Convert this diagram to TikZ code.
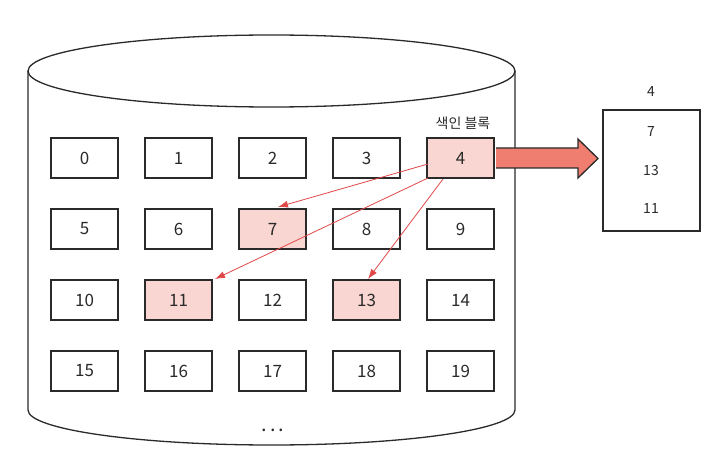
\documentclass[tikz,border=0pt]{standalone}
\usepackage{fontspec}
\setmainfont{Noto Sans CJK KR}
\usetikzlibrary{arrows.meta}
\definecolor{pinkfill}{HTML}{F9D6D1}
\definecolor{redline}{HTML}{E04848}
\definecolor{arrowfill}{HTML}{F07E70}
\definecolor{ink}{HTML}{2A2A2A}
\begin{document}
\begin{tikzpicture}[x=1pt,y=-1pt,
  blk/.style={draw=ink,line width=1.3pt,minimum width=67pt,minimum height=40pt,inner sep=0pt,font=\fontsize{17}{17}\selectfont,text=ink},
  hl/.style={blk,fill=pinkfill},
  ptr/.style={draw=redline,line width=0.8pt,-{Latex[length=10pt,width=7pt]}},
  lbl/.style={font=\fontsize{14}{14}\selectfont,text=ink}]
\useasboundingbox (0,0) rectangle (716,468);
% cylinder
\draw[ink,line width=1.3pt] (28,71) -- (28,410) arc[start angle=180,end angle=0,x radius=243.5,y radius=35] -- (515,71);
\draw[ink,line width=1.3pt] (271.5,71) ellipse[x radius=243.5,y radius=36];
% blocks
\foreach \n [count=\i from 0] in {0,...,19}{
  \pgfmathtruncatemacro{\c}{mod(\i,5)}
  \pgfmathtruncatemacro{\r}{div(\i,5)}
  \ifnum\n=4 \def\st{hl}\else\ifnum\n=7 \def\st{hl}\else\ifnum\n=11 \def\st{hl}\else\ifnum\n=13 \def\st{hl}\else\def\st{blk}\fi\fi\fi\fi
  \node[\st] (b\n) at ({84.5+94*\c},{158+71*\r}) {\n};
}
\node[lbl,anchor=south] (idx) at (463,133) {색인 블록};
\node[font=\fontsize{20}{20}\selectfont,text=ink] (dots) at (273,430) {.\hspace{3pt}.\hspace{3pt}.};
% pointers
\coordinate (s1) at (428,164);
\coordinate (s2) at (428,178);
\coordinate (s3) at (443,179);
\coordinate (e7) at (278,207);
\coordinate (e11) at (215,279);
\coordinate (e13) at (368,279);
\draw[ptr] (s1) -- (e7);
\draw[ptr] (s2) -- (e11);
\draw[ptr] (s3) -- (e13);
% big arrow
\draw[draw=ink,fill=arrowfill,line width=1.3pt,line join=miter] (496,148) -- (578,148) -- (578,139) -- (598,158.5) -- (578,178) -- (578,168) -- (496,168);
% result block
\node[draw=ink,line width=1.3pt,minimum width=97pt,minimum height=121pt,inner sep=0pt] (res) at (651.5,170.5) {};
\node[lbl] (r4) at (651,92) {4};
\node[lbl] (r7) at (651,132) {7};
\node[lbl] (r13) at (651,171) {13};
\node[lbl] (r11) at (651,209) {11};
\end{tikzpicture}
\end{document}
